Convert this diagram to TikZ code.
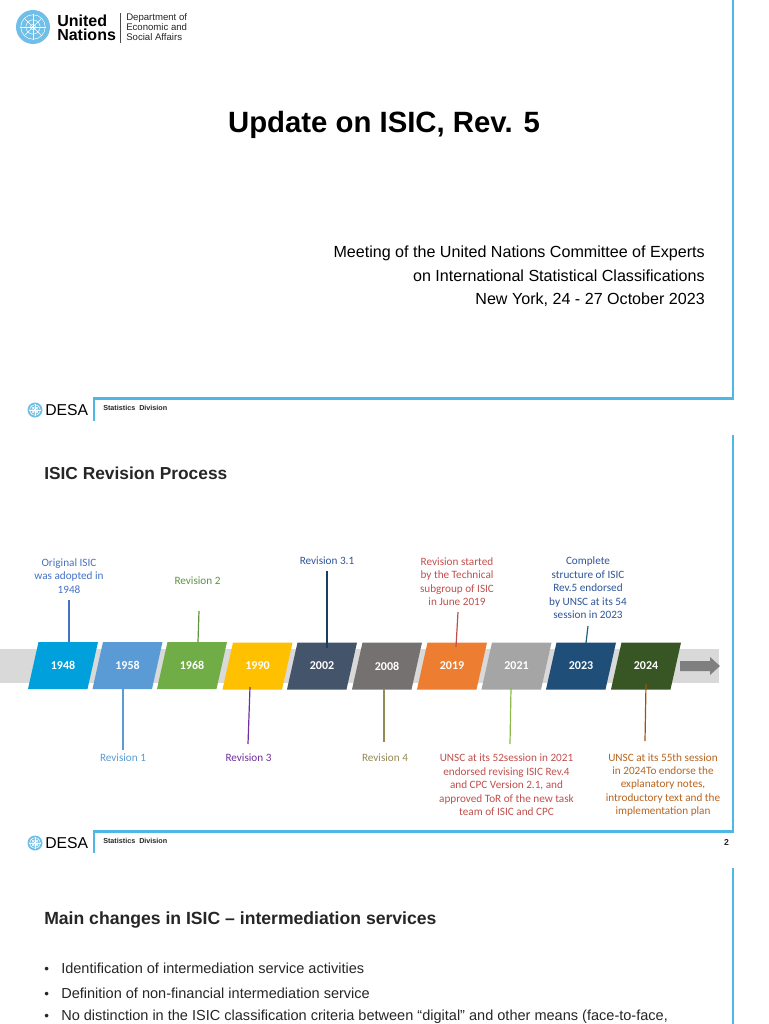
\documentclass[tikz,border=0pt]{standalone}
\usepackage{fontspec}
\setmainfont{Liberation Sans}
\newfontfamily\carl{Carlito}
\usetikzlibrary{arrows.meta}
\definecolor{frameblue}{HTML}{4DB8E4}
\definecolor{unblue}{HTML}{6FBFE8}
\definecolor{bandgray}{HTML}{D9D9D9}
\definecolor{arrowgray}{HTML}{7F7F7F}
\definecolor{cA}{HTML}{00A0DC}\definecolor{cB}{HTML}{5B9BD5}\definecolor{cC}{HTML}{70AD47}
\definecolor{cD}{HTML}{FFC000}\definecolor{cE}{HTML}{44546A}\definecolor{cF}{HTML}{767171}
\definecolor{cG}{HTML}{ED7D31}\definecolor{cH}{HTML}{A5A5A5}\definecolor{cI}{HTML}{1F4E79}
\definecolor{cJ}{HTML}{375623}
\definecolor{tOrig}{HTML}{4472C4}\definecolor{tOne}{HTML}{5B9BD5}\definecolor{tTwo}{HTML}{5E9440}
\definecolor{tThree}{HTML}{7030A0}\definecolor{tThreeOne}{HTML}{2F5597}\definecolor{tFour}{HTML}{948A54}
\definecolor{tRed}{HTML}{C0504D}\definecolor{tNavy}{HTML}{2F5597}\definecolor{tBrown}{HTML}{B8641E}
\definecolor{lTeal}{HTML}{1F5F7A}\definecolor{lGreen}{HTML}{8DB84A}\definecolor{lBrown}{HTML}{A5500F}
\tikzset{
  x=0.75pt,y=-0.75pt,
  frame/.style={draw=frameblue,line width=1.6pt},
  yearlabel/.style={text=white,font=\carl\bfseries\fontsize{9pt}{10pt}\selectfont,inner sep=0pt,minimum width=40,minimum height=20},
  note/.style={font=\carl\fontsize{8.4pt}{10.1pt}\selectfont,align=center,inner sep=0pt},
  leader/.style={line width=0.9pt},
  bullettext/.style={anchor=base west,font=\fontsize{10.9pt}{12pt}\selectfont,inner sep=0pt,text=black!85},
}
% \yearbox{name}{colour}{bottom-left x}{year}{y top}{y bottom}
\newcommand{\yearbox}[6]{%
  \fill[#2] (#3,#6) -- (#3+10.5,#5) -- (#3+70,#5) -- (#3+59.5,#6) -- cycle;
  \node[yearlabel] (#1) at (#3+35,#5/2+#6/2) {#4};
}
\newcommand{\unmark}[4]{% name, x, y, r
  \begin{scope}[shift={(#2,#3)}]
    \fill[unblue] (0,0) circle[radius=#4];
    \draw[white,line width=0.35pt] (0,0) circle[radius=#4*0.72] (0,0) circle[radius=#4*0.42] (0,0) circle[radius=#4*0.16];
    \foreach \a in {0,45,90,135}{\draw[white,line width=0.3pt] (\a:#4*0.74) -- (\a+180:#4*0.74);}
    \coordinate (#1) at (0,0);
  \end{scope}}
\begin{document}
\begin{tikzpicture}
\useasboundingbox[fill=white] (0,0) rectangle (768,1024);

% ---------- slide 1
\unmark{emblemA}{33}{27}{17}
\node[anchor=base west,inner sep=0pt,font=\bfseries\fontsize{12pt}{12pt}\selectfont] (unA) at (57,27) {United};
\node[anchor=base west,inner sep=0pt,font=\bfseries\fontsize{12pt}{12pt}\selectfont] (unB) at (57,41) {Nations};
\draw[black!70,line width=0.4pt] (120,13) -- (120,43);
\node[anchor=base west,inner sep=0pt,font=\fontsize{7.2pt}{7pt}\selectfont,text=black!85] (deptA) at (126,21) {Department of};
\node[anchor=base west,inner sep=0pt,font=\fontsize{7.2pt}{7pt}\selectfont,text=black!85] (deptB) at (126,31) {Economic and};
\node[anchor=base west,inner sep=0pt,font=\fontsize{7.2pt}{7pt}\selectfont,text=black!85] (deptC) at (126,41) {Social Affairs};
\node[font=\bfseries\fontsize{22pt}{26pt}\selectfont,inner sep=0pt] (title) at (384,124.5) {Update on ISIC, Rev. 5};
\node[anchor=base east,inner sep=0pt,font=\fontsize{12.07pt}{14pt}\selectfont] (m1) at (705,257) {Meeting of the United Nations Committee of Experts};
\node[anchor=base east,inner sep=0pt,font=\fontsize{12.07pt}{14pt}\selectfont] (m2) at (705,281) {on International Statistical Classifications};
\node[anchor=base east,inner sep=0pt,font=\fontsize{12.07pt}{14pt}\selectfont] (m3) at (705,304) {New York, 24 - 27 October 2023};
\draw[frame] (94,421) -- (94,398.5) -- (733,398.5) -- (733,0);
\unmark{emblemB}{35}{410}{7.5}
\node[anchor=base west,inner sep=0pt,font=\fontsize{11.8pt}{14pt}\selectfont] (desaA) at (45,415.5) {DESA};
\node[anchor=base west,inner sep=0pt,font=\fontsize{5.4pt}{6pt}\selectfont\bfseries,text=black!85] (sdA) at (103,410) {Statistics\ \ Division};

% ---------- slide 2
\node[anchor=base west,inner sep=0pt,font=\bfseries\fontsize{13pt}{16pt}\selectfont,text=black!85] (head2) at (44,479) {ISIC Revision Process};
\fill[bandgray] (0,649) rectangle (719,683);
\fill[arrowgray] (680,661) -- (710,661) -- (710,657) -- (720,666) -- (710,675) -- (710,671) -- (680,671) -- cycle;

\yearbox{yA}{cA}{28}{1948}{642}{689}
\yearbox{yB}{cB}{92.5}{1958}{642}{689}
\yearbox{yC}{cC}{157}{1968}{642}{689}
\yearbox{yD}{cD}{222.5}{1990}{642.5}{689.5}
\yearbox{yE}{cE}{287}{2002}{642.5}{689.5}
\yearbox{yF}{cF}{352}{2008}{642.5}{689.5}
\yearbox{yG}{cG}{417}{2019}{642.5}{689.5}
\yearbox{yH}{cH}{481.5}{2021}{642.5}{689.5}
\yearbox{yI}{cI}{546}{2023}{642.5}{689.5}
\yearbox{yJ}{cJ}{611}{2024}{642.5}{689.5}

\node[note,text=tOrig] (nA) at (69,576) {Original ISIC\\was adopted in\\1948};
\node[note,text=tOne] (nB) at (123,758) {Revision 1};
\node[note,text=tTwo] (nC) at (197.5,581) {Revision 2};
\node[note,text=tThree] (nD) at (248.5,758) {Revision 3};
\node[note,text=tThreeOne] (nE) at (327,561) {Revision 3.1};
\node[note,text=tFour] (nF) at (385,758) {Revision 4};
\node[note,text=tRed] (nG) at (457,581.5) {Revision started\\by the Technical\\subgroup of ISIC\\in June 2019};
\node[note,text=tRed] (nH) at (506.5,785) {UNSC at its 52session in 2021\\endorsed revising ISIC Rev.4\\and CPC Version 2.1, and\\approved ToR of the new task\\team of ISIC and CPC};
\node[note,text=tNavy] (nI) at (588,588) {Complete\\structure of ISIC\\Rev.5 endorsed\\by UNSC at its 54\\session in 2023};
\node[note,text=tBrown] (nJ) at (663,785) {UNSC at its 55th session\\in 2024To endorse the\\explanatory notes,\\introductory text and the\\implementation plan};

\coordinate (eA) at (69,600);
\coordinate (eB) at (123,750);
\coordinate (eC) at (199,611);
\coordinate (eD) at (248,744);
\coordinate (eE) at (327,571);
\coordinate (eF) at (384,742);
\coordinate (eG) at (458,612);
\coordinate (eH) at (510,744);
\coordinate (eI) at (588,626);
\coordinate (eJ) at (645,741);
\coordinate (sA) at (69,642);
\coordinate (sB) at (123,689);
\coordinate (sC) at (198,642);
\coordinate (sD) at (250,687);
\coordinate (sE) at (327,648);
\coordinate (sF) at (384,689);
\coordinate (sG) at (456,647);
\coordinate (sH) at (511,688);
\coordinate (sI) at (586,643);
\coordinate (sJ) at (646,684);
\draw[leader,draw=tOrig] (sA) -- (eA);
\draw[leader,draw=tOne] (sB) -- (eB);
\draw[leader,draw=tTwo] (sC) -- (eC);
\draw[leader,draw=tThree] (sD) -- (eD);
\draw[leader,draw=cI!80!black] (sE) -- (eE);
\draw[leader,draw=tFour] (sF) -- (eF);
\draw[leader,draw=tRed] (sG) -- (eG);
\draw[leader,draw=lGreen] (sH) -- (eH);
\draw[leader,draw=lTeal] (sI) -- (eI);
\draw[leader,draw=lBrown] (sJ) -- (eJ);

\draw[frame] (94,853) -- (94,831.5) -- (733,831.5) -- (733,435);
\unmark{emblemC}{35}{843}{7.5}
\node[anchor=base west,inner sep=0pt,font=\fontsize{11.8pt}{14pt}\selectfont] (desaB) at (45,848.5) {DESA};
\node[anchor=base west,inner sep=0pt,font=\fontsize{5.4pt}{6pt}\selectfont\bfseries,text=black!85] (sdB) at (103,843) {Statistics\ \ Division};
\node[anchor=base,inner sep=0pt,font=\bfseries\fontsize{6.5pt}{7pt}\selectfont,text=black!85] (pg) at (726.5,845) {2};

% ---------- slide 3
\draw[frame] (733,868) -- (733,1024);
\node[anchor=base west,inner sep=0pt,font=\bfseries\fontsize{13.2pt}{16pt}\selectfont,text=black!85] (head3) at (44,924) {Main changes in ISIC – intermediation services};
\foreach \nm/\yy/\tx in {bA/973/Identification of intermediation service activities,bB/998/Definition of non-financial intermediation service,bC/1020.5/No distinction in the ISIC classification criteria between “digital” and other means (face-to-face{,}}{
  \node[bullettext] (\nm) at (61,\yy) {\tx};
  \node[anchor=base west,inner sep=0pt,font=\fontsize{10pt}{12pt}\selectfont,text=black!85] (\nm dot) at (44,\yy) {•};
}
\end{tikzpicture}
\end{document}
